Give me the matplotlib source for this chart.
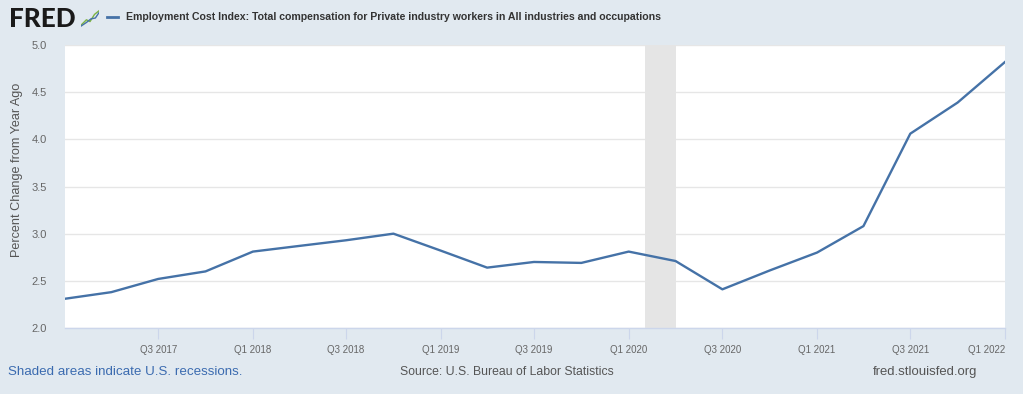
import matplotlib
matplotlib.use("Agg")
import matplotlib.pyplot as plt
import matplotlib.dates as mdates
import numpy as np
import datetime as dt

# ---- data ----
quarters = ["2017-01-01", "2017-04-01", "2017-07-01", "2017-10-01",
            "2018-01-01", "2018-04-01", "2018-07-01", "2018-10-01",
            "2019-01-01", "2019-04-01", "2019-07-01", "2019-10-01",
            "2020-01-01", "2020-04-01", "2020-07-01", "2020-10-01",
            "2021-01-01", "2021-04-01", "2021-07-01", "2021-10-01",
            "2022-01-01"]
eci_pct = [2.31, 2.38, 2.52, 2.60,
           2.81, 2.87, 2.93, 3.00,
           2.82, 2.64, 2.70, 2.69,
           2.81, 2.71, 2.41, 2.61,
           2.80, 3.08, 4.06, 4.39,
           4.82]
tick_dates = ["2017-07-01", "2018-01-01", "2018-07-01", "2019-01-01", "2019-07-01",
              "2020-01-01", "2020-07-01", "2021-01-01", "2021-07-01", "2022-01-01"]
tick_labels = ["Q3 2017", "Q1 2018", "Q3 2018", "Q1 2019", "Q3 2019",
               "Q1 2020", "Q3 2020", "Q1 2021", "Q3 2021", "Q1 2022"]
recession = ("2020-02-01", "2020-04-01")
y_ticks = [2.0, 2.5, 3.0, 3.5, 4.0, 4.5, 5.0]

title = "Employment Cost Index: Total compensation for Private industry workers in All industries and occupations"
ylabel = "Percent Change from Year Ago"

to_d = lambda s: dt.datetime.strptime(s, "%Y-%m-%d")
x = [to_d(q) for q in quarters]

W, H = 1023, 394
BG = "#e1e9f0"
LINE = "#4572a7"
FONT = "Liberation Sans"

fig = plt.figure(figsize=(W / 100, H / 100), dpi=100, facecolor=BG)
renderer = fig.canvas.get_renderer()


def fit_text(t, target_w):
    """Scale font size so that text t spans target_w pixels."""
    bb = t.get_window_extent(renderer=renderer)
    fs = t.get_fontsize()
    t.set_fontsize(fs * target_w / bb.width)
    return t


def px(xp, yp):
    return xp / W, 1 - yp / H


L, R, T, B = 65, 1005, 45, 328
ax = fig.add_axes([L / W, 1 - B / H, (R - L) / W, (B - T) / H])
ax.set_facecolor("white")
ax.plot(x, eci_pct, color=LINE, lw=1.7, solid_joinstyle="round", zorder=3)
ax.axvspan(to_d(recession[0]), to_d(recession[1]), color="#e5e5e5", lw=0, zorder=1)

ax.set_xlim(x[0], x[-1])
ax.set_ylim(2.0, 5.0)
ax.set_yticks(y_ticks)
ax.set_yticklabels([f"{v:.1f}" for v in y_ticks])
ax.grid(axis="y", color="#e6e6e6", lw=1, zorder=0)
ax.set_axisbelow(True)
ax.set_xticks([to_d(d) for d in tick_dates])
ax.set_xticklabels(tick_labels)
for s in ["top", "right", "left"]:
    ax.spines[s].set_visible(False)
ax.spines["bottom"].set_color("#ccd6eb")
ax.spines["bottom"].set_linewidth(1)
ax.tick_params(axis="y", length=0, pad=13, labelsize=8, labelcolor="#666666")
ax.tick_params(axis="x", length=8, width=0.8, color="#ccd6eb", direction="out",
               pad=4, labelsize=7, labelcolor="#666666")
for lab in ax.get_yticklabels() + ax.get_xticklabels():
    lab.set_fontfamily(FONT)
# last tick label kept within the plot
ax.get_xticklabels()[-1].set_horizontalalignment("right")

# y label
yl = fig.text(*px(17, 170), ylabel, rotation=90, ha="center", va="center",
              fontsize=8, color="#555555", family=FONT)
bb = yl.get_window_extent(renderer=renderer)
yl.set_fontsize(yl.get_fontsize() * 176 / bb.height)

# header: FRED logo
logo = fig.text(*px(9, 19), "FRED", ha="left", va="center", fontsize=16,
                fontweight="black", color="#1a1a1a", family=["Lato", FONT])
fit_text(logo, 67)
icon = fig.add_axes([81 / W, 1 - 27 / H, 18 / W, 18 / H])
icon.set_facecolor("#d8e2ea")
icon.plot([0, 0.3, 0.5, 0.75, 1], [0.1, 0.4, 0.3, 0.7, 0.9], color="#7cb342", lw=1)
icon.plot([0, 0.3, 0.55, 0.8, 1], [0.05, 0.25, 0.45, 0.5, 0.8], color="#4572a7", lw=1)
icon.set_xlim(0, 1)
icon.set_ylim(0, 1)
icon.axis("off")

fig.add_artist(plt.Line2D([107 / W, 118 / W], [1 - 17 / H] * 2, color=LINE, lw=2))
tt = fig.text(*px(126, 17), title, ha="left", va="center", fontsize=9,
              fontweight="bold", color="#333333", family=FONT)
fit_text(tt, 534)

# footer
f1 = fig.text(*px(8, 372), "Shaded areas indicate U.S. recessions.", ha="left",
              va="center", fontsize=9, color="#3b6bb0", family=FONT)
fit_text(f1, 235)
f2 = fig.text(*px(507, 372), "Source: U.S. Bureau of Labor Statistics", ha="center",
              va="center", fontsize=9, color="#555555", family=FONT)
fit_text(f2, 213)
f3 = fig.text(*px(977, 372), "fred.stlouisfed.org", ha="right", va="center",
              fontsize=9, color="#555555", family=FONT)
fit_text(f3, 105)

fig.savefig("out.png", dpi=100, facecolor=BG)
